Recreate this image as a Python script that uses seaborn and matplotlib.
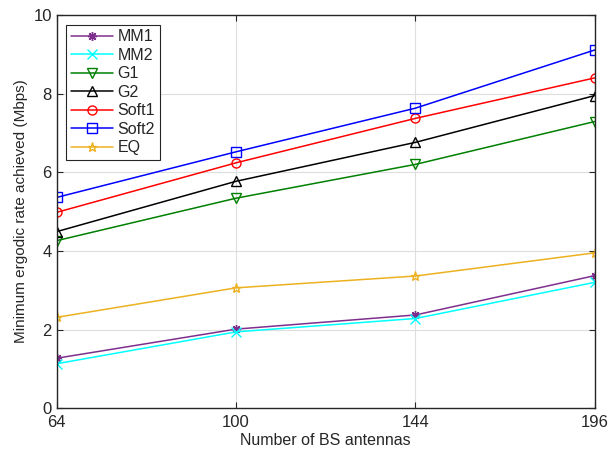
import matplotlib
matplotlib.use('Agg')
import numpy as np
import pandas as pd
import seaborn as sns
import matplotlib.pyplot as plt

antennas = [64, 100, 144, 196]
mm1 = [1.27, 2.01, 2.37, 3.37]
mm2 = [1.13, 1.94, 2.28, 3.20]
g1 = [4.26, 5.34, 6.20, 7.29]
g2 = [4.49, 5.77, 6.76, 7.95]
soft1 = [4.98, 6.24, 7.37, 8.40]
soft2 = [5.36, 6.52, 7.63, 9.11]
eq = [2.31, 3.06, 3.36, 3.95]

names = ['MM1', 'MM2', 'G1', 'G2', 'Soft1', 'Soft2', 'EQ']
series = [mm1, mm2, g1, g2, soft1, soft2, eq]
colors = ['#7E2F8E', '#00FFFF', '#008000', '#000000', '#FF0000', '#0000FF', '#EDB120']
markers = [(8, 2, 0), 'x', 'v', '^', 'o', 's', '*']

sns.set_style('white')
plt.rcParams['font.family'] = ['Liberation Sans', 'DejaVu Sans']

fig, ax = plt.subplots(figsize=(6.1, 4.54), dpi=100)
fig.subplots_adjust(left=0.093, right=0.975, top=0.967, bottom=0.101)

xpos = np.arange(len(antennas))
for name, vals, c, m in zip(names, series, colors, markers):
    df = pd.DataFrame({'x': xpos, 'y': vals})
    sns.lineplot(data=df, x='x', y='y', ax=ax, color=c, marker=m, markersize=6.5,
                 markerfacecolor='none', markeredgecolor=c, markeredgewidth=1.0,
                 linewidth=1.1, label=name)

ax.set_xlim(0, len(antennas) - 1)
ax.set_ylim(0, 10)
ax.set_xticks(xpos)
ax.set_xticklabels([str(a) for a in antennas])
ax.set_yticks([0, 2, 4, 6, 8, 10])
ax.grid(True, color='#DEDEDE', linewidth=0.8)
ax.set_axisbelow(True)
ax.tick_params(direction='in', length=4, labelsize=12, colors='#262626',
               top=True, right=True, bottom=True, left=True)
ax.tick_params(axis='x', pad=5)
for s in ax.spines.values():
    s.set_color('#262626')
    s.set_linewidth(1.0)
ax.set_xlabel('Number of BS antennas', fontsize=11.5, color='#262626', labelpad=2)
ax.set_ylabel('Minimum ergodic rate achieved (Mbps)', fontsize=11, color='#262626')

leg = ax.legend(loc='upper left', fontsize=11.5, frameon=True, fancybox=False,
                edgecolor='#262626', framealpha=1, borderpad=0.3, labelspacing=0.22,
                handlelength=2.6, handletextpad=0.3, borderaxespad=0.6)
leg.get_frame().set_linewidth(0.8)

plt.savefig('out.png')
